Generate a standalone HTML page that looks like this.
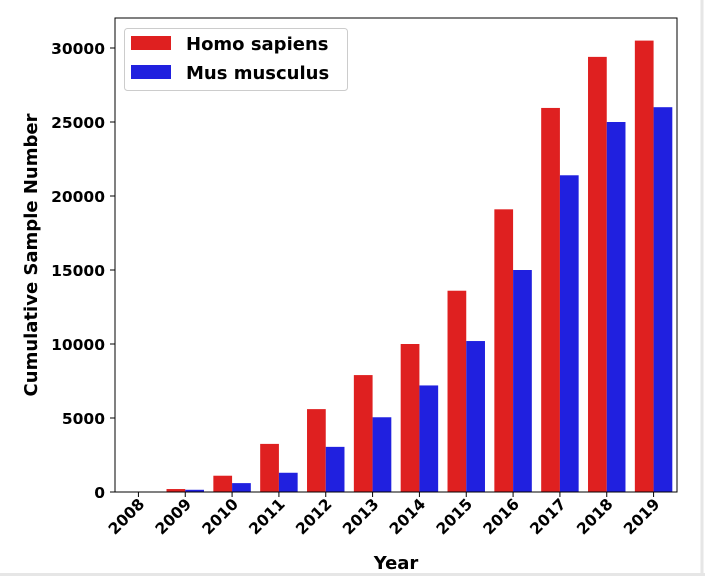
<!DOCTYPE html>
<html><head><meta charset="utf-8"><style>
html,body{margin:0;padding:0;background:#fff;}
body{width:705px;height:576px;overflow:hidden;font-family:"DejaVu Sans",sans-serif;}
svg text{font-family:"DejaVu Sans","Liberation Sans",sans-serif;font-weight:bold;fill:#000;}
</style></head><body>
<svg id="chart" width="705" height="576" viewBox="0 0 705 576">
<rect x="0" y="0" width="705" height="576" fill="#fff"/>
<line x1="702" y1="0" x2="702" y2="576" stroke="#e6e6e6" stroke-width="3"/>
<line x1="0" y1="574.5" x2="705" y2="574.5" stroke="#e6e6e6" stroke-width="3"/>
<g id="plot"></g>
</svg>
<script>
const years = ["2008","2009","2010","2011","2012","2013","2014","2015","2016","2017","2018","2019"];
const homoSapiens = [30,200,1100,3250,5600,7900,10000,13600,19100,25950,29400,30500];
const musMusculus = [20,150,600,1300,3050,5050,7200,10200,15000,21400,25000,26000];
const yTicks = [0,5000,10000,15000,20000,25000,30000];

const NS="http://www.w3.org/2000/svg";
const g=document.getElementById('plot');
const L=115,R=677,T=18,B=492;
const yMax=(492-48)/30000;
function y(v){return B-v*yMax;}
const band=(R-L)/years.length;
function xc(i){return L+band*(i+0.5);}
function mk(tag,attrs,parent){const e=document.createElementNS(NS,tag);for(const k in attrs)e.setAttribute(k,attrs[k]);(parent||g).appendChild(e);return e;}

const barW=band*0.4;
years.forEach((yr,i)=>{
  const h=homoSapiens[i],m=musMusculus[i];
  const r1=mk('rect',{x:xc(i)-barW,y:y(h),width:barW,height:B-y(h),fill:'#df2020'});
  
  
  const r2=mk('rect',{x:xc(i),y:y(m),width:barW,height:B-y(m),fill:'#2020df'});
  
  
  mk('line',{x1:xc(i),y1:B,x2:xc(i),y2:B+5,stroke:'#000','stroke-width':1});
  const t=mk('text',{x:0,y:0,'font-size':'15.5','text-anchor':'end',transform:`translate(${xc(i)+7},${B+13}) rotate(-45)`});
  t.textContent=yr;
  
  
});
yTicks.forEach(v=>{
  mk('line',{x1:L-5,y1:y(v),x2:L,y2:y(v),stroke:'#000','stroke-width':1});
  const t=mk('text',{x:L-10,y:y(v)+6,'font-size':'15.5','text-anchor':'end'});
  t.textContent=v;
  
  
});
const frame=mk('rect',{x:L,y:T,width:R-L,height:B-T,fill:'none',stroke:'#000','stroke-width':1});


const xl=mk('text',{x:396,y:569,'font-size':'18','text-anchor':'middle'});
xl.textContent='Year';


const yl=mk('text',{x:0,y:0,'font-size':'18','text-anchor':'middle',transform:'translate(37,255) rotate(-90)'});
yl.textContent='Cumulative Sample Number';


const lg=mk('g',{});


mk('rect',{x:124.5,y:28.5,width:223,height:62,rx:3,fill:'#fff',stroke:'#ccc','stroke-width':1},lg);
const entries=[['Homo sapiens','#df2020'],['Mus musculus','#2020df']];
entries.forEach((e,i)=>{
  const gy=36+i*29;
  const sw=mk('rect',{x:131,y:gy,width:40,height:14,fill:e[1]},lg);
  
  
  const t=mk('text',{x:186,y:gy+14,'font-size':'18'},lg);
  t.textContent=e[0];
  
  
});
</script>
</body></html>
